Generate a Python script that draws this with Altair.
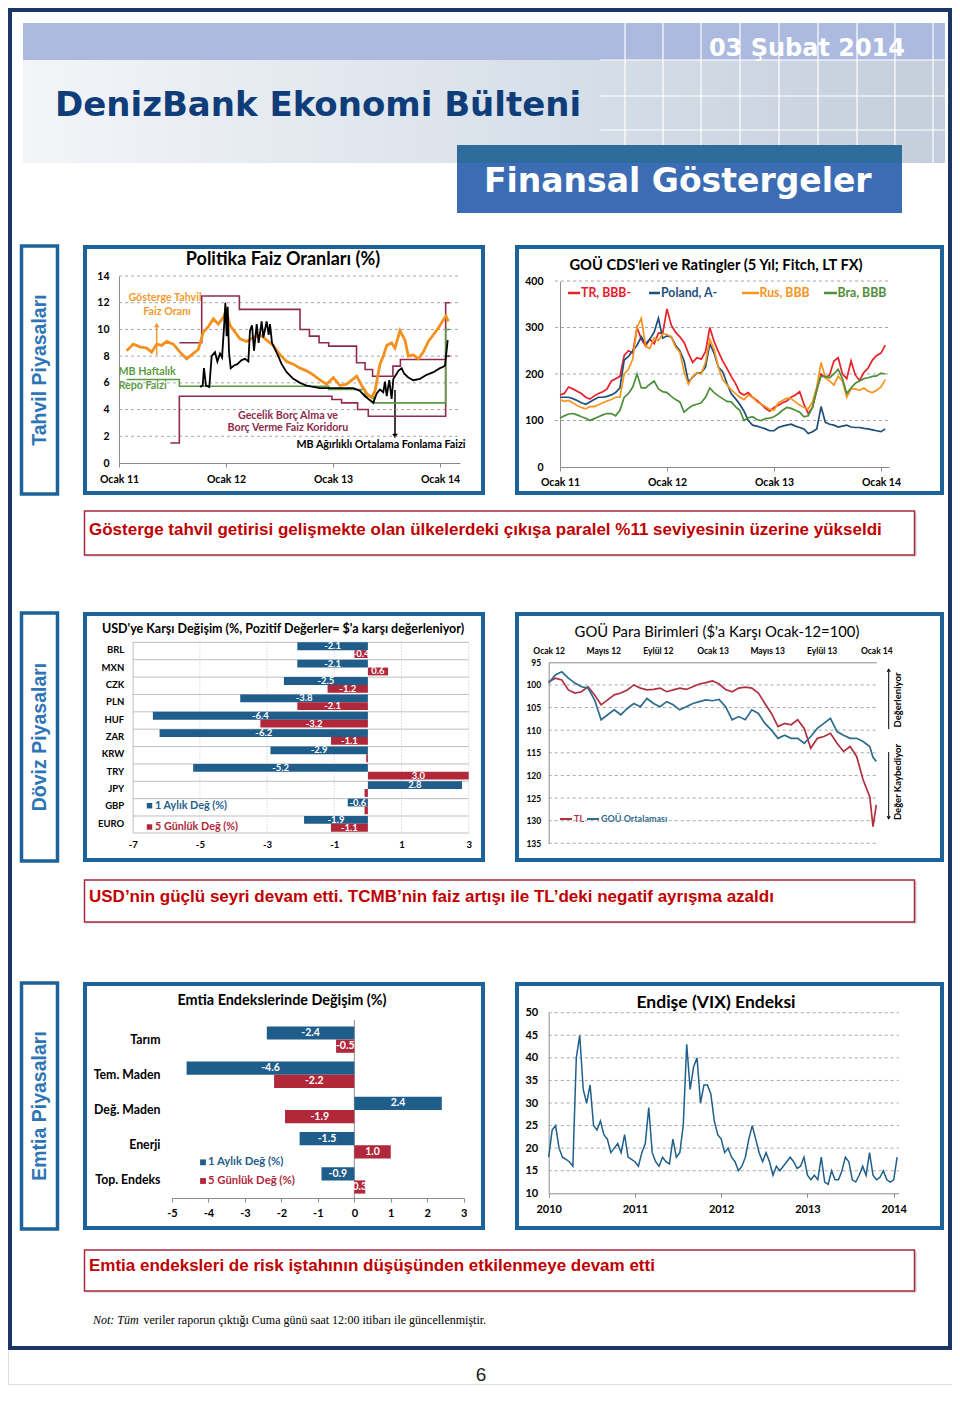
import json
import altair as alt
import pandas as pd

# ============================== DATA ==============================
# --- Politika Faiz Oranları (%)  (x = decimal year)
UPPER_T = [2011.564, 2011.773, 2012.125, 2012.692, 2012.780, 2012.870, 2012.960, 2013.220, 2013.300, 2013.370, 2013.560, 2013.630, 2014.053, 2014.093]
UPPER_V = [9.0, 12.5, 11.5, 10.0, 9.5, 9.0, 8.75, 7.5, 7.0, 6.5, 7.25, 7.75, 12.0, 12.0]
LOWER_T = [2011.480, 2011.564, 2012.990, 2013.080, 2013.230, 2013.330, 2014.053, 2014.093]
LOWER_V = [1.5, 5.0, 4.75, 4.5, 4.0, 3.5, 8.0, 8.0]
REPO_T = [2011.072, 2011.564, 2012.960, 2013.300, 2013.380, 2014.053, 2014.093]
REPO_V = [6.25, 5.75, 5.5, 5.0, 4.5, 10.0, 10.0]
BOND_T = [2011.072, 2011.134, 2011.196, 2011.259, 2011.305, 2011.352, 2011.399, 2011.445, 2011.508, 2011.570,
          2011.632, 2011.695, 2011.741, 2011.788, 2011.835, 2011.882, 2011.928, 2011.975, 2012.000, 2012.037,
          2012.084, 2012.131, 2012.193, 2012.255, 2012.318, 2012.380, 2012.442, 2012.505, 2012.567, 2012.629,
          2012.692, 2012.754, 2012.816, 2012.879, 2012.941, 2013.003, 2013.065, 2013.128, 2013.190, 2013.221,
          2013.268, 2013.315, 2013.361, 2013.393, 2013.439, 2013.470, 2013.502, 2013.548, 2013.579, 2013.626,
          2013.673, 2013.704, 2013.751, 2013.798, 2013.844, 2013.891, 2013.938, 2013.984, 2014.031, 2014.056, 2014.078]
BOND_V = [8.4, 8.9, 8.7, 8.6, 8.3, 8.9, 8.8, 9.1, 8.9, 8.3,
          7.8, 8.2, 8.5, 9.8, 10.2, 10.8, 10.4, 10.9, 11.4, 10.3,
          9.8, 9.3, 9.1, 9.4, 9.6, 9.2, 8.8, 8.1, 7.6, 7.4,
          7.1, 6.9, 6.6, 6.2, 5.9, 6.4, 5.8, 5.9, 6.3, 6.5,
          5.8, 5.2, 4.9, 5.4, 7.4, 8.0, 8.8, 9.0, 8.6, 9.9,
          9.2, 8.0, 8.1, 7.8, 8.3, 9.1, 9.6, 10.1, 10.7, 11.0, 10.6]
FUND_T = [2011.757, 2011.782, 2011.794, 2011.813, 2011.844, 2011.866, 2011.897, 2011.919, 2011.944, 2011.963,
          2011.981, 2011.994, 2012.006, 2012.016, 2012.028, 2012.044, 2012.075, 2012.106, 2012.146, 2012.178,
          2012.209, 2012.224, 2012.243, 2012.262, 2012.287, 2012.305, 2012.333, 2012.349, 2012.380, 2012.399,
          2012.411, 2012.430, 2012.458, 2012.489, 2012.520, 2012.567, 2012.629, 2012.692, 2012.754, 2012.816,
          2012.879, 2013.003, 2013.128, 2013.190, 2013.252, 2013.299, 2013.346, 2013.377, 2013.408, 2013.439,
          2013.470, 2013.486, 2013.502, 2013.526, 2013.548, 2013.564, 2013.589, 2013.611, 2013.642, 2013.664,
          2013.704, 2013.751, 2013.813, 2013.875, 2013.938, 2014.000, 2014.031, 2014.047, 2014.072]
FUND_V = [5.7, 5.8, 7.1, 5.8, 5.7, 8.0, 8.3, 7.6, 8.2, 7.9,
          10.1, 12.0, 9.5, 11.7, 8.3, 7.1, 7.3, 7.4, 7.7, 7.8,
          7.6, 9.9, 10.3, 8.4, 10.4, 9.0, 10.6, 9.4, 10.6, 9.6,
          10.4, 9.0, 8.5, 8.0, 7.4, 6.8, 6.3, 6.0, 5.8, 5.7,
          5.6, 5.6, 5.6, 5.6, 5.4, 5.0, 4.7, 4.5, 5.2, 5.5,
          5.3, 6.1, 5.0, 6.2, 4.8, 6.3, 6.6, 6.9, 7.1, 6.7,
          6.4, 6.2, 6.3, 6.6, 6.8, 7.1, 7.2, 7.3, 9.2]
POL_YTICKS = [0, 2, 4, 6, 8, 10, 12, 14]
POL_GRID = [2, 4, 6, 8, 10, 12, 14]
YEAR_TICKS = [2011, 2012, 2013, 2014]

# --- GOÜ CDS'leri (bi-weekly samples from Jan 2011)
CDS_T = [round(2011 + 0.04 * i, 2) for i in range(77)]
CDS_TR = [155, 158, 172, 168, 163, 158, 150, 146, 153, 158, 162, 168, 185, 190, 195, 240, 250, 245, 300, 275,
          260, 275, 265, 288, 288, 340, 305, 290, 280, 268, 245, 225, 235, 232, 248, 300, 270, 248, 228, 212,
          195, 180, 160, 155, 160, 150, 143, 135, 126, 120, 128, 133, 138, 142, 150, 155, 162, 135, 115, 128,
          165, 200, 192, 198, 228, 235, 200, 190, 228, 198, 186, 203, 213, 230, 240, 245, 262]
CDS_PL = [150, 150, 150, 147, 143, 138, 135, 140, 145, 150, 150, 152, 155, 160, 170, 230, 238, 250, 262, 280,
          265, 275, 290, 320, 277, 282, 280, 262, 250, 228, 183, 193, 202, 203, 215, 265, 245, 215, 205, 180,
          158, 147, 135, 120, 100, 90, 88, 85, 82, 78, 78, 85, 88, 90, 92, 88, 85, 82, 72, 76,
          82, 130, 96, 92, 90, 86, 88, 90, 86, 85, 85, 83, 82, 80, 78, 76, 82]
CDS_RU = [145, 141, 143, 138, 132, 128, 125, 130, 130, 134, 138, 142, 145, 150, 150, 200, 210, 232, 300, 320,
          260, 255, 278, 272, 286, 285, 280, 258, 247, 205, 178, 195, 203, 200, 225, 275, 253, 215, 188, 177,
          166, 158, 150, 145, 155, 150, 140, 135, 130, 124, 122, 138, 143, 148, 147, 140, 133, 128, 125, 140,
          172, 225, 192, 185, 176, 195, 185, 150, 168, 168, 165, 170, 163, 160, 165, 172, 188]
CDS_BR = [105, 110, 114, 115, 112, 108, 105, 100, 104, 108, 112, 115, 115, 110, 122, 150, 158, 172, 200, 170,
          170, 178, 185, 168, 162, 160, 152, 145, 140, 118, 126, 132, 135, 138, 150, 170, 160, 153, 147, 141,
          140, 130, 122, 100, 106, 108, 102, 100, 104, 105, 108, 114, 122, 128, 126, 122, 118, 108, 110, 128,
          168, 195, 195, 192, 200, 210, 190, 158, 170, 180, 185, 190, 192, 195, 196, 202, 200]
CDS_YTICKS = [0, 100, 200, 300, 400]
CDS_GRID = [100, 200, 300, 400]

# --- USD'ye karşı değişim (%)
FX_CATS = ["BRL", "MXN", "CZK", "PLN", "HUF", "ZAR", "KRW", "TRY", "JPY", "GBP", "EURO"]
FX_1M = [-2.1, -2.1, -2.5, -3.8, -6.4, -6.2, -2.9, -5.2, 2.8, -0.6, -1.9]
FX_5D = [-0.4, 0.6, -1.2, -2.1, -3.2, -1.1, -0.05, 3.0, -0.1, -0.1, -1.1]
FX_XTICKS = [-7, -5, -3, -1, 1, 3]
FX_VGRID = [-5, -3, -1, 1, 3]

# --- GOÜ Para Birimleri ($'a karşı Ocak-12=100)
CUR_T = [round(2012 + 0.04 * i, 2) for i in range(50)] + [2013.98, 2014.0]
CUR_TL = [99.3, 98.5, 98.9, 101.1, 101.8, 101.5, 100.4, 102.2, 104.4, 103.3,
          102.2, 101.8, 101.1, 100.0, 100.7, 101.1, 101.0, 100.7, 101.5, 101.1,
          100.7, 101.0, 100.4, 99.8, 99.5, 99.1, 99.8, 101.0, 101.5, 100.7,
          100.5, 100.7, 101.8, 104.1, 106.3, 109.2, 108.5, 108.8, 107.7, 109.6,
          114.0, 111.8, 111.4, 110.7, 112.9, 114.7, 113.6, 115.8, 121.0, 124.7, 131.3, 126.5]
CUR_EM = [99.6, 97.8, 97.1, 98.5, 99.6, 100.4, 100.7, 103.3, 107.7, 106.6,
          105.5, 106.6, 105.2, 104.1, 104.8, 103.0, 104.1, 104.8, 103.7, 104.4,
          105.5, 104.8, 104.1, 103.7, 103.3, 103.5, 103.2, 104.8, 107.7, 107.0,
          107.7, 105.5, 106.3, 108.5, 110.0, 111.8, 111.1, 111.8, 111.8, 112.9,
          111.4, 109.6, 108.5, 107.4, 110.3, 111.1, 111.8, 111.8, 112.5, 113.6, 116.0, 116.9]
CUR_LABELS = ["Ocak 12", "Mayıs 12", "Eylül 12", "Ocak 13", "Mayıs 13", "Eylül 13", "Ocak 14"]
CUR_YTICKS = [95, 100, 105, 110, 115, 120, 125, 130, 135]
CUR_GRID = [100, 105, 110, 115, 120, 125, 130, 135]

# --- Emtia Endekslerinde Değişim (%)
EM_CATS = ["Tarım", "Tem. Maden", "Değ. Maden", "Enerji", "Top. Endeks"]
EM_1M = [-2.4, -4.6, 2.4, -1.5, -0.9]
EM_5D = [-0.5, -2.2, -1.9, 1.0, 0.3]
EM_XTICKS = [-5, -4, -3, -2, -1, 0, 1, 2, 3]

# --- VIX (bi-weekly samples from Jan 2010)
VIX_T = [round(2010 + 0.04 * i, 2) for i in range(102)]
VIX_V = [18, 24, 25, 20, 18, 17.5, 17, 16, 40, 45, 33, 30, 34, 25, 24, 26, 23, 22, 19, 20,
         21, 19, 23, 18, 17.5, 17, 16, 19, 21, 29, 19, 17, 16, 18, 17, 16.5, 22, 18, 19, 25,
         43, 33, 38, 40, 30, 34, 34, 32, 26, 23, 22, 19, 20, 18, 17, 15, 16, 18, 22, 25,
         22, 19, 17, 19, 17, 14, 16, 15, 16, 17, 18, 17, 15.5, 16, 18, 14, 13, 14, 13, 18,
         12.5, 12, 15, 13, 13, 15, 18, 17, 13, 12.5, 14, 16, 14, 19, 14, 13, 13.5, 15, 13, 12.5,
         13, 18]
VIX_YTICKS = [10, 15, 20, 25, 30, 35, 40, 45, 50]
VIX_GRID = [15, 20, 25, 30, 35, 40, 45, 50]
VIX_XTICKS = [2010, 2011, 2012, 2013, 2014]

# ============================== LAYOUT HELPERS ==============================
W, H = 944, 1376
OX, OY = 8, 8
FONT = "Lato"
AXC = "#8c8c8c"
FRAME = "#1d6399"
NAVY = "#1b3564"
MAROON = "#8e2c4a"
GREEN = "#5c9b45"
ORANGE = "#f3901e"
BLUE = "#1f5d8b"
RED = "#b0283a"
BOXRED = "#a8283c"
TXTRED = "#c00000"


def px(x):
    return round(x - OX, 2)


def py(y):
    return round(y - OY, 2)


DUMMY = pd.DataFrame({"d": [0]})


def rect(x1, y1, x2, y2, fill=None, stroke=None, sw=1.0, opacity=None):
    kw = {}
    if fill is not None:
        kw["fill"] = fill
    else:
        kw["fillOpacity"] = 0
    if stroke is not None:
        kw["stroke"] = stroke
        kw["strokeWidth"] = sw
    if opacity is not None:
        kw["opacity"] = opacity
    return alt.Chart(DUMMY).mark_rect(**kw).encode(
        x=alt.value(px(x1)), x2=alt.value(px(x2)), y=alt.value(py(y1)), y2=alt.value(py(y2)))


def text(s, x, y, size, color="#000000", font=FONT, weight="bold", align="left",
         baseline="middle", angle=None, style=None):
    kw = dict(text=s, fontSize=size, color=color, font=font, fontWeight=weight,
              align=align, baseline=baseline)
    if angle is not None:
        kw["angle"] = angle
    if style is not None:
        kw["fontStyle"] = style
    return alt.Chart(DUMMY).mark_text(**kw).encode(x=alt.value(px(x)), y=alt.value(py(y)))


def seg(x1, y1, x2, y2, color, w):
    return alt.Chart(DUMMY).mark_rule(color=color, strokeWidth=w).encode(
        x=alt.value(px(x1)), x2=alt.value(px(x2)), y=alt.value(py(y1)), y2=alt.value(py(y2)))


def head(x, y, shape, color, size=40):
    return alt.Chart(DUMMY).mark_point(shape=shape, filled=True, color=color, size=size, opacity=1).encode(
        x=alt.value(px(x)), y=alt.value(py(y)))


def base_axis(**kw):
    d = dict(grid=False, domainColor=AXC, domainWidth=1, labelFont=FONT, labelFontWeight="bold",
             labelColor="#000000", labelFlush=False, labelOverlap=False, title=None, ticks=False)
    d.update(kw)
    return alt.Axis(**d)


def ax_bottom(y, size, pad, **kw):
    return base_axis(orient="bottom", offset=round(py(y) - H, 2), labelFontSize=size, labelPadding=pad, **kw)


def ax_left(x, size, pad, **kw):
    return base_axis(orient="left", offset=round(-px(x), 2), labelFontSize=size, labelPadding=pad, **kw)


def ax_top(y, size, pad, **kw):
    return base_axis(orient="top", offset=round(-py(y), 2), labelFontSize=size, labelPadding=pad, **kw)


def lin(x1, x2, d0, d1):
    return alt.Scale(domain=[d0, d1], range=[px(x1), px(x2)], nice=False, zero=False)


def vlin(y_lo, y_hi, d0, d1):
    return alt.Scale(domain=[d0, d1], range=[py(y_lo), py(y_hi)], nice=False, zero=False)


def series(t, v, xs, ys, xaxis, yaxis, color, w, interp=None):
    kw = dict(color=color, strokeWidth=w)
    if interp:
        kw["interpolate"] = interp
    return alt.Chart(pd.DataFrame({"t": t, "v": v})).mark_line(**kw).encode(
        x=alt.X("t:Q", scale=xs, axis=xaxis), y=alt.Y("v:Q", scale=ys, axis=yaxis))


def hgrid(vals, ys, yaxis, x1, x2, color="#a6a6a6", dash=(3, 3)):
    kw = dict(color=color, strokeWidth=1)
    if dash:
        kw["strokeDash"] = list(dash)
    return alt.Chart(pd.DataFrame({"g": vals})).mark_rule(**kw).encode(
        y=alt.Y("g:Q", scale=ys, axis=yaxis), x=alt.value(px(x1)), x2=alt.value(px(x2)))


OCAK_EXPR = "'Ocak ' + substring(toString(datum.value), 2, 4)"

# ============================== CHART 1: Politika faiz ==============================
XS1 = lin(119, 460, 2011.0, 2014.187)
YS1 = vlin(463, 276, 0, 14)
AX1X = ax_bottom(463, 10.5, 7, values=YEAR_TICKS, labelExpr=OCAK_EXPR, ticks=True, tickSize=4, tickColor=AXC)
AX1Y = ax_left(119, 10.5, 10, values=POL_YTICKS)
c1 = alt.layer(
    hgrid(POL_GRID, YS1, AX1Y, 119, 460),
    series(UPPER_T, UPPER_V, XS1, YS1, AX1X, AX1Y, MAROON, 1.6, "step-after"),
    series(LOWER_T, LOWER_V, XS1, YS1, AX1X, AX1Y, MAROON, 1.6, "step-after"),
    series(REPO_T, REPO_V, XS1, YS1, AX1X, AX1Y, GREEN, 1.6, "step-after"),
    series(BOND_T, BOND_V, XS1, YS1, AX1X, AX1Y, ORANGE, 2.8),
    series(FUND_T, FUND_V, XS1, YS1, AX1X, AX1Y, "#000000", 1.8),
)

# ============================== CHART 2: CDS ==============================
XS2 = lin(560, 889, 2011.0, 2014.075)
YS2 = vlin(467, 281, 0, 400)
AX2X = ax_bottom(467, 10.5, 6, values=YEAR_TICKS, labelExpr=OCAK_EXPR, ticks=True, tickSize=4, tickColor=AXC)
AX2Y = ax_left(560, 10.5, 17, values=CDS_YTICKS)
c2 = alt.layer(
    hgrid(CDS_GRID, YS2, AX2Y, 555, 889),
    series(CDS_T, CDS_TR, XS2, YS2, AX2X, AX2Y, "#e8202a", 1.7),
    series(CDS_T, CDS_PL, XS2, YS2, AX2X, AX2Y, "#1f4f7a", 1.7),
    series(CDS_T, CDS_RU, XS2, YS2, AX2X, AX2Y, "#f7941d", 1.7),
    series(CDS_T, CDS_BR, XS2, YS2, AX2X, AX2Y, "#4e8f3a", 1.7),
)


# ============================== CHART 3: FX bars ==============================
def bar_df(cats, a, b):
    d = pd.DataFrame({"cat": cats + cats, "s": ["a"] * len(cats) + ["b"] * len(cats), "v": a + b})
    d["mid"] = d["v"] / 2
    # tiny bars carry no readable label in the original (white text on white)
    d["lab"] = [f"{v:.1f}" if abs(v) >= 0.2 else "" for v in d["v"]]
    return d


SER = alt.Scale(domain=["a", "b"], range=[BLUE, RED])
OFF = alt.Scale(domain=["a", "b"])
FX_DF = bar_df(FX_CATS, FX_1M, FX_5D)
XS3 = lin(132.7, 468.7, -7, 3)
YS3 = alt.Scale(domain=FX_CATS, range=[py(641.5), py(832.5)], paddingInner=0.1, paddingOuter=0.05)
AX3X = ax_bottom(832.5, 9.5, 7, values=FX_XTICKS, labelExpr="toString(datum.value)", domainColor="#bfbfbf")
AX3Y = ax_left(132.7, 9.5, 9, domainColor="#bfbfbf")
c3 = alt.layer(
    alt.Chart(pd.DataFrame({"g": FX_VGRID})).mark_rule(color="#c4c4c4", strokeDash=[1, 2]).encode(
        x=alt.X("g:Q", scale=XS3, axis=AX3X), y=alt.value(py(641.5)), y2=alt.value(py(832.5))),
    alt.Chart(pd.DataFrame({"cat": FX_CATS})).mark_rule(color="#bfbfbf").encode(
        y=alt.Y("cat:N", scale=YS3, sort=FX_CATS, bandPosition=0, axis=AX3Y),
        x=alt.value(px(132.7)), x2=alt.value(px(468.7))),
    alt.Chart(FX_DF).mark_bar().encode(
        y=alt.Y("cat:N", scale=YS3, sort=FX_CATS, axis=AX3Y),
        yOffset=alt.YOffset("s:N", scale=OFF),
        x=alt.X("v:Q", scale=XS3, axis=AX3X),
        color=alt.Color("s:N", scale=SER, legend=None)),
    alt.Chart(FX_DF).mark_text(color="white", font=FONT, fontWeight="bold", fontSize=9.5).encode(
        y=alt.Y("cat:N", scale=YS3, sort=FX_CATS, axis=AX3Y),
        yOffset=alt.YOffset("s:N", scale=OFF),
        x=alt.X("mid:Q", scale=XS3, axis=AX3X),
        text="lab:N"),
)

# ============================== CHART 4: GOÜ para birimleri ==============================
XS4 = lin(548.7, 876.3, 2012, 2014)
YS4 = vlin(662.3, 843.3, 95, 135)
CUR_TICKS = [2012 + i / 3 for i in range(len(CUR_LABELS))]
CUR_EXPR = json.dumps(CUR_LABELS, ensure_ascii=False) + "[round((datum.value - 2012) * 3)]"
AX4X = ax_top(662.3, 8.5, 7, values=CUR_TICKS, labelExpr=CUR_EXPR)
AX4Y = ax_left(548.7, 8.5, 8, values=CUR_YTICKS)
c4 = alt.layer(
    hgrid(CUR_GRID, YS4, AX4Y, 548.7, 876.3),
    series(CUR_T, CUR_TL, XS4, YS4, AX4X, AX4Y, "#b0303f", 1.7),
    series(CUR_T, CUR_EM, XS4, YS4, AX4X, AX4Y, "#2e6b8f", 1.7),
)

# ============================== CHART 5: Emtia bars ==============================
EM_DF = bar_df(EM_CATS, EM_1M, EM_5D)
XS5 = lin(172, 463.7, -5, 3)
YS5 = alt.Scale(domain=EM_CATS, range=[py(1022), py(1198)], paddingInner=0.25, paddingOuter=0.125)
AX5X = ax_bottom(1198, 11, 5, values=EM_XTICKS, labelExpr="toString(datum.value)",
                 ticks=True, tickSize=4, tickColor=AXC)
AX5Y = ax_left(172, 12.3, 12, domain=False)
c5 = alt.layer(
    alt.Chart(pd.DataFrame({"z": [0]})).mark_rule(color=AXC).encode(
        x=alt.X("z:Q", scale=XS5, axis=AX5X), y=alt.value(py(1020)), y2=alt.value(py(1198))),
    alt.Chart(EM_DF).mark_bar().encode(
        y=alt.Y("cat:N", scale=YS5, sort=EM_CATS, axis=AX5Y),
        yOffset=alt.YOffset("s:N", scale=OFF),
        x=alt.X("v:Q", scale=XS5, axis=AX5X),
        color=alt.Color("s:N", scale=SER, legend=None)),
    alt.Chart(EM_DF).mark_text(color="white", font=FONT, fontWeight="bold", fontSize=10.5).encode(
        y=alt.Y("cat:N", scale=YS5, sort=EM_CATS, axis=AX5Y),
        yOffset=alt.YOffset("s:N", scale=OFF),
        x=alt.X("mid:Q", scale=XS5, axis=AX5X),
        text="lab:N"),
)

# ============================== CHART 6: VIX ==============================
XS6 = lin(548.7, 898.7, 2010, 2014.058)
YS6 = vlin(1193.3, 1012.7, 10, 50)
AX6X = ax_bottom(1193.3, 11, 6, values=VIX_XTICKS, labelExpr="toString(datum.value)",
                 ticks=True, tickSize=4, tickColor=AXC)
AX6Y = ax_left(548.7, 11, 11, values=VIX_YTICKS)
c6 = alt.layer(
    hgrid(VIX_GRID, YS6, AX6Y, 548.7, 898.7),
    series(VIX_T, VIX_V, XS6, YS6, AX6X, AX6Y, "#1f5f8b", 1.5),
)

# ============================== DECORATION ==============================
IMG_GRAD = alt.LinearGradient(gradient="linear", x1=0, y1=0, x2=1, y2=0, stops=[
    alt.GradientStop(color="#f3f5f8", offset=0),
    alt.GradientStop(color="#dde4ec", offset=0.45),
    alt.GradientStop(color="#c4cedc", offset=1)])

deco = [
    rect(23, 23, 945, 60, fill="#abbade"),
    rect(23, 60, 945, 163, fill=IMG_GRAD),
]
for gx in [625, 663, 701, 740, 779, 818, 857, 895, 933]:
    deco.append(seg(gx, 23, gx, 163, "#ffffff", 1.2))
for gy in [60, 96, 130]:
    deco.append(seg(600, gy, 945, gy, "#ffffff", 1.2))
deco += [
    text("03 Şubat 2014", 905, 56, 24, color="#ffffff", font="DejaVu Sans", align="right", baseline="alphabetic"),
    text("DenizBank Ekonomi Bülteni", 55, 116, 34, color="#0f3d7a", font="DejaVu Sans", baseline="alphabetic"),
    rect(457, 145, 902, 213, fill="#3b6cb4"),
    rect(457, 145, 902, 163, fill="#2e6c9c"),
    text("Finansal Göstergeler", 484, 192, 33, color="#ffffff", font="DejaVu Sans", baseline="alphabetic"),
]

# side labels + chart frames
for (y1, y2, lab) in [(246, 494, "Tahvil Piyasaları"), (613, 861, "Döviz Piyasaları"),
                      (983, 1229, "Emtia Piyasaları")]:
    deco.append(rect(21.5, y1, 57.5, y2, stroke=FRAME, sw=3.5))
    deco.append(text(lab, 40, (y1 + y2) / 2, 19.5, color="#2e75b6", font="Liberation Sans",
                     align="center", angle=270))
for (y1, y2) in [(247, 493), (614, 860), (984, 1228)]:
    deco.append(rect(85, y1, 483, y2, stroke=FRAME, sw=4))
    deco.append(rect(517, y1, 942, y2, stroke=FRAME, sw=4))

# chart titles
deco += [
    text("Politika Faiz Oranları (%)", 283, 260, 18, align="center"),
    text("GOÜ CDS'leri ve Ratingler (5 Yıl; Fitch, LT FX)", 716, 266, 14.7, align="center"),
    text("USD'ye Karşı Değişim (%, Pozitif Değerler= $'a karşı değerleniyor)", 283, 629, 12.5, align="center"),
    text("GOÜ Para Birimleri ($'a Karşı Ocak-12=100)", 717, 633, 14.8, align="center", weight="normal"),
    text("Emtia Endekslerinde Değişim (%)", 282, 1001, 14.4, align="center"),
    text("Endişe (VIX)  Endeksi", 716, 1003, 17.5, align="center"),
]

# chart 1 annotations
A1 = 10.7
deco += [
    text("Gösterge Tahvil", 165, 298, A1, color="#f39a2e", align="center"),
    text("Faiz Oranı", 167, 312, A1, color="#f39a2e", align="center"),
    seg(156.7, 355, 156.7, 326, "#f39a2e", 1.5),
    head(156.7, 325, "triangle-up", "#f39a2e", 30),
    text("MB Haftalık", 118.5, 372, A1, color=GREEN),
    text("Repo Faizi", 118.5, 386, A1, color=GREEN),
    text("Gecelik Borç Alma ve", 288, 416, A1, color=MAROON, align="center"),
    text("Borç Verme Faiz Koridoru", 288, 428, A1, color=MAROON, align="center"),
    text("MB Ağırlıklı Ortalama Fonlama Faizi", 296.5, 445, A1),
    seg(395, 390, 395, 434, "#000000", 1.5),
    head(395, 436, "triangle-down", "#000000", 30),
]

# chart 2 legend
for (x1, x2, tx, lab, col) in [(568, 580, 581, "TR, BBB-", "#e8202a"), (649, 660, 661, "Poland, A-", "#1f4f7a"),
                               (742, 759, 759.5, "Rus, BBB", "#f7941d"), (824, 837, 837.5, "Bra, BBB", "#4e8f3a")]:
    deco.append(seg(x1, 293, x2, 293, col, 2.5))
    deco.append(text(lab, tx, 293, 12.3, color=col))

# chart 3 legend
deco += [
    head(149.5, 805.7, "square", BLUE, 30),
    text("1 Aylık Değ (%)", 155, 805.7, 10.8, color=BLUE),
    head(149.5, 827, "square", RED, 30),
    text("5 Günlük Değ (%)", 155, 827, 10.8, color=RED),
]

# chart 4 legend + side notes
deco += [
    seg(560, 819, 572, 819, "#b0303f", 2),
    text("TL", 574, 819, 9, color="#b0303f"),
    seg(587, 819, 599, 819, "#2e6b8f", 2),
    text("GOÜ Ortalaması", 601, 819, 9, color="#2e6b8f"),
    text("Değerleniyor", 897.5, 700, 9.5, align="center", angle=270),
    text("Değer Kaybediyor", 897.5, 782, 9.5, align="center", angle=270),
    seg(888.7, 729, 888.7, 672, "#000000", 1),
    head(888.7, 670, "triangle-up", "#000000", 18),
    seg(888.7, 752, 888.7, 816, "#000000", 1),
    head(888.7, 818, "triangle-down", "#000000", 18),
]

# chart 5 legend
deco += [
    head(203, 1162.3, "square", BLUE, 34),
    text("1 Aylık Değ (%)", 208, 1162.3, 11.3, color=BLUE),
    head(203, 1181, "square", RED, 34),
    text("5 Günlük Değ (%)", 208, 1181, 11.3, color=RED),
]

# comment boxes
BOXES = [(511, 555, 530, "Gösterge tahvil getirisi gelişmekte olan ülkelerdeki çıkışa paralel %11 seviyesinin üzerine yükseldi"),
         (880, 922, 897, "USD’nin güçlü seyri devam etti. TCMB’nin faiz artışı ile TL’deki negatif ayrışma azaldı"),
         (1250, 1291, 1266, "Emtia endeksleri de risk iştahının düşüşünden etkilenmeye devam etti")]
for (y1, y2, ty, s) in BOXES:
    deco.append(rect(85.5, y1 + 1.5, 916.5, y2 + 1.5, fill="#d0d0d0"))
    deco.append(rect(84.5, y1, 914.5, y2, fill="#ffffff", stroke=BOXRED, sw=1.5))
    deco.append(text(s, 89, ty, 17, color=TXTRED, font="Liberation Sans"))

# note, page number, page border
deco += [
    text("Not: Tüm", 93, 1320, 12, font="Liberation Serif", weight="normal", style="italic"),
    text("veriler raporun çıktığı Cuma günü saat 12:00 itibarı ile güncellenmiştir.", 143.5, 1320, 12,
         font="Liberation Serif", weight="normal"),
    text("6", 481, 1375, 19, font="Liberation Sans", weight="normal", align="center", color="#222222"),
    rect(10, 10, 950, 1348, stroke=NAVY, sw=4),
]

chart = alt.layer(*deco, c1, c2, c3, c4, c5, c6).resolve_scale(
    x="independent", y="independent", yOffset="independent", color="independent"
).resolve_axis(x="independent", y="independent").properties(
    width=W, height=H, padding=0
).configure_view(strokeWidth=0).configure(background="#ffffff")

chart.save("out.html", embed_options={"renderer": "svg", "actions": False})
